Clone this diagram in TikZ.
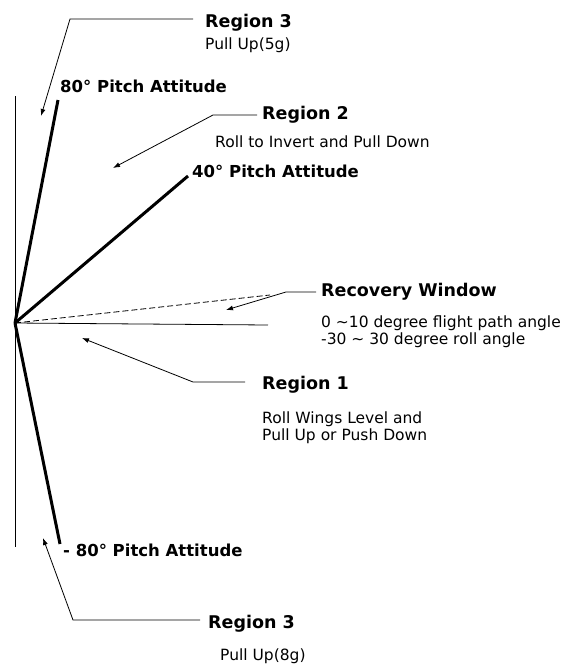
\documentclass[tikz,border=0pt]{standalone}
\usepackage{fontspec}
\setmainfont{DejaVu Sans}
\usetikzlibrary{arrows.meta}
\newcommand{\tld}{{\char"7E}}
\begin{document}
\begin{tikzpicture}[x=1pt,y=-1pt,
  head/.style={anchor=base west,inner sep=0pt,font=\fontsize{17.5}{20}\selectfont\bfseries},
  pitch/.style={anchor=base west,inner sep=0pt,font=\fontsize{16.5}{19}\selectfont\bfseries},
  note/.style={anchor=base west,inner sep=0pt,font=\fontsize{15.5}{17}\selectfont},
  attline/.style={line width=3pt},
  pointer/.style={line width=0.8pt,-{Latex[length=7pt,width=5pt]}},
]
\useasboundingbox (0,0) rectangle (576,665);
% geometry
\coordinate (O) at (15,323);
\coordinate (vtop) at (15,96);
\coordinate (vbot) at (15,547);
\coordinate (p80) at (58,100);
\coordinate (p40) at (188,176);
\coordinate (pm80) at (60,544);
\coordinate (hz) at (268,325);
\coordinate (dz) at (270,295);
\draw[line width=0.8pt] (vtop) -- (vbot);
\draw[attline] (O) -- (p80);
\draw[attline] (O) -- (p40);
\draw[attline] (O) -- (pm80);
\draw[line width=0.8pt] (O) -- (hz);
\draw[line width=0.8pt,dash pattern=on 6pt off 3pt] (O) -- (dz);
% labels
\node[head] (r3t) at (205,27) {Region 3};
\node[note] (r3tn) at (205,49) {Pull Up(5g)};
\node[pitch] (l80) at (60,92) {80° Pitch Attitude};
\node[head] (r2) at (262,119) {Region 2};
\node[note] (r2n) at (215,147) {Roll to Invert and Pull Down};
\node[pitch] (l40) at (192,177) {40° Pitch Attitude};
\node[head] (rw) at (321,296) {Recovery Window};
\node[note] (rwn1) at (321,327) {0 \tld10 degree flight path angle};
\node[note] (rwn2) at (321,344) {-30 \tld\ 30 degree roll angle};
\node[head] (r1) at (262,389) {Region 1};
\node[note] (r1n1) at (262,423) {Roll Wings Level and};
\node[note] (r1n2) at (262,440) {Pull Up or Push Down};
\node[pitch] (lm80) at (63,556) {- 80° Pitch Attitude};
\node[head] (r3b) at (208,628) {Region 3};
\node[note] (r3bn) at (220,660) {Pull Up(8g)};
% pointer arrows
\coordinate (a3s) at (193,19);
\coordinate (a3c) at (70,19);
\coordinate (a3t) at (41,116);
\draw[pointer] (a3s) -- (a3c) -- (a3t);
\coordinate (a2s) at (257,115);
\coordinate (a2c) at (213,115);
\coordinate (a2t) at (113,168);
\draw[pointer] (a2s) -- (a2c) -- (a2t);
\coordinate (aws) at (316,292);
\coordinate (awc) at (286,292);
\coordinate (awt) at (226,310);
\draw[pointer] (aws) -- (awc) -- (awt);
\coordinate (a1s) at (245,382);
\coordinate (a1c) at (193,382);
\coordinate (a1t) at (82,338);
\draw[pointer] (a1s) -- (a1c) -- (a1t);
\coordinate (abs) at (200,620);
\coordinate (abc) at (73,620);
\coordinate (abt) at (43,538);
\draw[pointer] (abs) -- (abc) -- (abt);
\end{tikzpicture}
\end{document}
